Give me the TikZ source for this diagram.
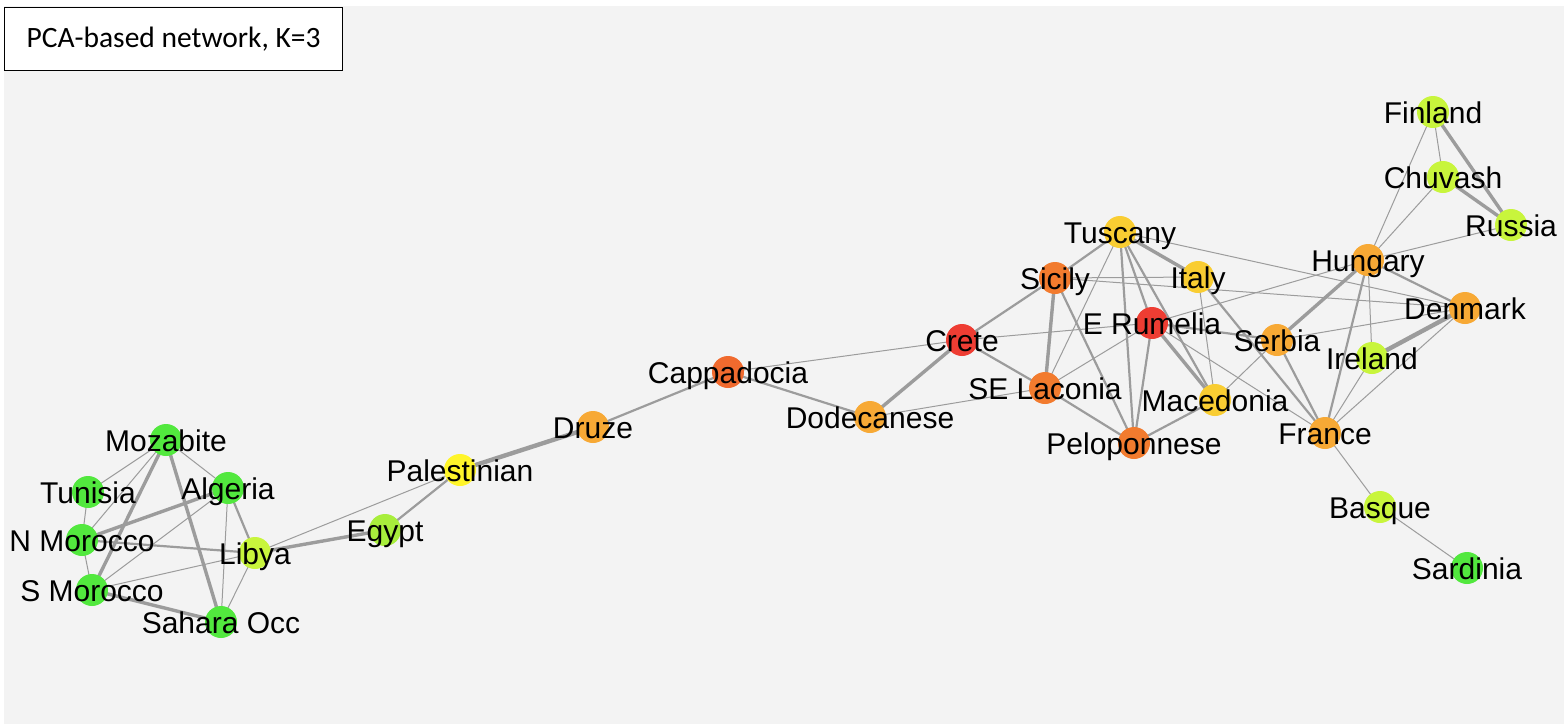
\documentclass[tikz,border=0pt]{standalone}
\usepackage{fontspec}
\setmainfont{Liberation Sans}
\newfontfamily\titlefont{Carlito}
\pgfdeclarelayer{canvas}
\pgfdeclarelayer{edges}
\pgfsetlayers{canvas,edges,main}

\definecolor{bggray}{HTML}{F3F3F3}
\definecolor{edgegray}{HTML}{9C9C9C}
\definecolor{cgreen}{HTML}{52E83E}
\definecolor{clime}{HTML}{C8F53C}
\definecolor{cegypt}{HTML}{A8EE3C}
\definecolor{cyellow}{HTML}{FFF52A}
\definecolor{cgold}{HTML}{F9CD32}
\definecolor{corange}{HTML}{F7A935}
\definecolor{cdorange}{HTML}{F27B2E}
\definecolor{ccappa}{HTML}{F06A2E}
\definecolor{cred}{HTML}{EE3D33}

\tikzset{
  dot/.style={circle, draw=none, minimum size=32pt, inner sep=0pt},
  lbl/.style={anchor=base, inner sep=0pt, font=\fontsize{30}{30}\selectfont, text=black},
  wa/.style={draw=edgegray, line width=1pt},
  wb/.style={draw=edgegray, line width=2.2pt},
  wc/.style={draw=edgegray, line width=3.4pt},
  wd/.style={draw=edgegray, line width=4.4pt},
}

% a population: filled disc plus its name set across it
\newcommand{\pop}[5]{%
  \node[dot, fill=#4] (#1) at (#2,#3) {};
  \node[lbl] (#1-t) at (#2,#3+11) {#5};
}

\begin{document}
\begin{tikzpicture}[x=1pt, y=-1pt]
\useasboundingbox (0,0) rectangle (1564,724);
\begin{pgfonlayer}{canvas}
  \fill[bggray] (4,6) rectangle (1564,724);
\end{pgfonlayer}
\node[draw=black, line width=1.3pt, fill=white, minimum width=338pt, minimum height=63pt,
      inner sep=0pt, anchor=north west] (title) at (4,7)
      {\titlefont\fontsize{29.5}{29.5}\selectfont PCA-based network, K=3};

% North Africa
\pop{moz}{166}{440}{cgreen}{Mozabite}
\pop{tun}{88}{492}{cgreen}{Tunisia}
\pop{alg}{228}{488}{cgreen}{Algeria}
\pop{nmor}{82}{540}{cgreen}{N Morocco}
\pop{lib}{255}{553}{clime}{Libya}
\pop{smor}{92}{590}{cgreen}{S Morocco}
\pop{sah}{221}{622}{cgreen}{Sahara Occ}
% Near East
\pop{egy}{385}{530}{cegypt}{Egypt}
\pop{pal}{460}{470}{cyellow}{Palestinian}
\pop{dru}{593}{427}{corange}{Druze}
\pop{cap}{728}{372}{ccappa}{Cappadocia}
% Southern Europe
\pop{dod}{870}{417}{corange}{Dodecanese}
\pop{cre}{962}{340}{cred}{Crete}
\pop{sel}{1045}{388}{cdorange}{SE Laconia}
\pop{sic}{1055}{278}{cdorange}{Sicily}
\pop{tus}{1120}{232}{cgold}{Tuscany}
\pop{ita}{1198}{277}{cgold}{Italy}
\pop{eru}{1152}{323}{cred}{E Rumelia}
\pop{mac}{1215}{400}{cgold}{Macedonia}
\pop{pel}{1134}{443}{cdorange}{Peloponnese}
% Northern Europe
\pop{ser}{1277}{340}{corange}{Serbia}
\pop{hun}{1368}{260}{corange}{Hungary}
\pop{den}{1465}{308}{corange}{Denmark}
\pop{ire}{1372}{358}{clime}{Ireland}
\pop{fra}{1325}{433}{corange}{France}
\pop{fin}{1433}{112}{clime}{Finland}
\pop{chu}{1443}{177}{clime}{Chuvash}
\pop{rus}{1511}{225}{clime}{Russia}
\pop{bas}{1380}{507}{clime}{Basque}
\pop{sar}{1467}{568}{cgreen}{Sardinia}

\begin{pgfonlayer}{edges}
  % North Africa
  \path[wa] (moz.center) -- (tun.center);
  \path[wa] (moz.center) -- (nmor.center);
  \path[wc] (moz.center) -- (smor.center);
  \path[wc] (moz.center) -- (sah.center);
  \path[wa] (moz.center) -- (alg.center);
  \path[wa] (tun.center) -- (nmor.center);
  \path[wc] (nmor.center) -- (alg.center);
  \path[wb] (nmor.center) -- (lib.center);
  \path[wa] (nmor.center) -- (smor.center);
  \path[wa] (smor.center) -- (alg.center);
  \path[wa] (smor.center) -- (lib.center);
  \path[wc] (smor.center) -- (sah.center);
  \path[wb] (alg.center) -- (lib.center);
  \path[wa] (alg.center) -- (sah.center);
  \path[wa] (lib.center) -- (sah.center);
  % towards the Near East
  \path[wc] (lib.center) -- (egy.center);
  \path[wa] (lib.center) -- (pal.center);
  \path[wb] (egy.center) -- (pal.center);
  \path[wd] (pal.center) -- (dru.center);
  \path[wb] (dru.center) -- (cap.center);
  \path[wa] (cap.center) -- (cre.center);
  \path[wb] (cap.center) -- (dod.center);
  % Mediterranean core
  \path[wc] (dod.center) -- (cre.center);
  \path[wa] (dod.center) -- (sel.center);
  \path[wb] (cre.center) -- (sic.center);
  \path[wb] (cre.center) -- (sel.center);
  \path[wa] (cre.center) -- (eru.center);
  \path[wb] (sic.center) -- (tus.center);
  \path[wc] (sic.center) -- (sel.center);
  \path[wb] (sic.center) -- (pel.center);
  \path[wa] (sic.center) -- (ita.center);
  \path[wa] (sic.center) -- (den.center);
  \path[wc] (tus.center) -- (ita.center);
  \path[wa] (tus.center) -- (den.center);
  \path[wa] (tus.center) -- (sel.center);
  \path[wb] (tus.center) -- (pel.center);
  \path[wb] (tus.center) -- (eru.center);
  \path[wb] (tus.center) -- (mac.center);
  \path[wa] (eru.center) -- (sel.center);
  \path[wb] (eru.center) -- (pel.center);
  \path[wc] (eru.center) -- (mac.center);
  \path[wa] (eru.center) -- (fra.center);
  \path[wb] (eru.center) -- (ser.center);
  \path[wa] (eru.center) -- (hun.center);
  \path[wb] (sel.center) -- (pel.center);
  \path[wb] (pel.center) -- (mac.center);
  \path[wa] (ita.center) -- (mac.center);
  \path[wb] (ita.center) -- (fra.center);
  \path[wa] (mac.center) -- (ser.center);
  % Central and Northern Europe
  \path[wc] (ser.center) -- (hun.center);
  \path[wa] (ser.center) -- (den.center);
  \path[wb] (ser.center) -- (fra.center);
  \path[wa] (hun.center) -- (fin.center);
  \path[wa] (hun.center) -- (chu.center);
  \path[wa] (hun.center) -- (rus.center);
  \path[wb] (hun.center) -- (den.center);
  \path[wa] (hun.center) -- (ire.center);
  \path[wb] (hun.center) -- (fra.center);
  \path[wd] (den.center) -- (ire.center);
  \path[wa] (den.center) -- (fra.center);
  \path[wa] (ire.center) -- (fra.center);
  \path[wa] (fra.center) -- (bas.center);
  \path[wa] (bas.center) -- (sar.center);
  \path[wa] (fin.center) -- (chu.center);
  \path[wc] (fin.center) -- (rus.center);
  \path[wc] (chu.center) -- (rus.center);
\end{pgfonlayer}
\end{tikzpicture}
\end{document}
